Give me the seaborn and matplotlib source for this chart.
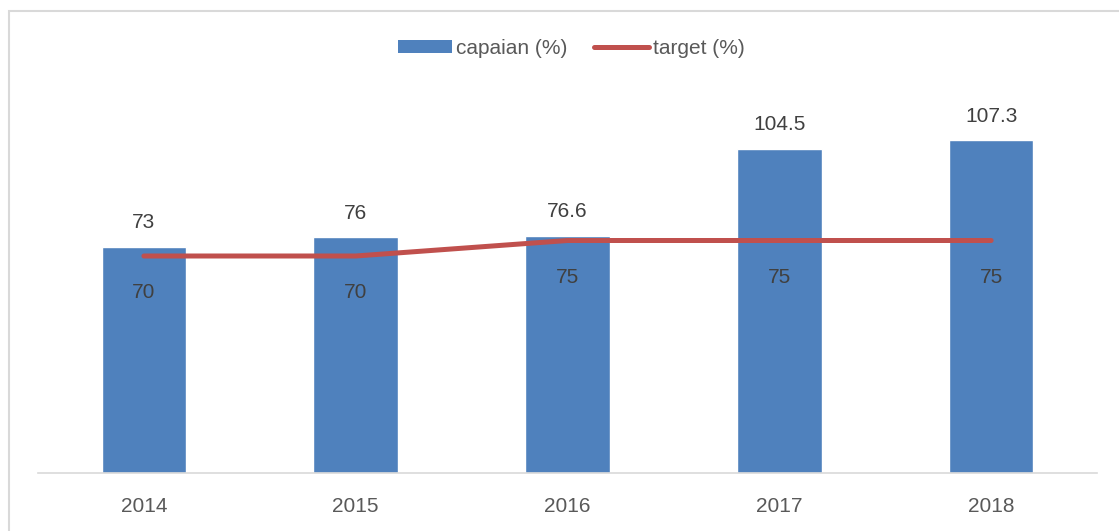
import matplotlib
matplotlib.use("Agg")
import matplotlib.pyplot as plt
import seaborn as sns
import pandas as pd
import numpy as np
from matplotlib.patches import Rectangle, Patch
from matplotlib.lines import Line2D

years = ["2014", "2015", "2016", "2017", "2018"]
capaian = [73, 76, 76.6, 104.5, 107.3]
target = [70, 70, 75, 75, 75]
capaian_labels = ["73", "76", "76.6", "104.5", "107.3"]
target_labels = ["70", "70", "75", "75", "75"]

BAR = "#4F81BD"
LINE = "#C0504D"

sns.set_theme(style="white")
plt.rcParams["font.family"] = ["Liberation Sans", "DejaVu Sans"]

fig = plt.figure(figsize=(11.19, 5.31), dpi=100)
W, H = 1119, 531
ax = fig.add_axes([38 / W, (H - 473) / H, (1097 - 38) / W, 370 / H])

df = pd.DataFrame({"year": years, "capaian": capaian})
sns.barplot(data=df, x="year", y="capaian", color=BAR, saturation=1, width=0.4, ax=ax)
xs = np.arange(len(years))
sns.lineplot(x=xs, y=target, color=LINE, linewidth=3.6, ax=ax, sort=False)

ax.set_ylim(0, 370 / 3.1)
ax.set_xlim(-0.5, len(years) - 0.5)
ax.set_xlabel("")
ax.set_ylabel("")
ax.set_yticks([])
for s in ["left", "right", "top"]:
    ax.spines[s].set_visible(False)
ax.spines["bottom"].set_color("#D9D9D9")
ax.spines["bottom"].set_linewidth(1.2)
ax.tick_params(axis="x", length=0, pad=17, labelsize=15, labelcolor="#595959")

for x, v, lab in zip(xs, capaian, capaian_labels):
    ax.annotate(lab, (x, v), xytext=(0, 17.5), textcoords="offset points",
                ha="center", va="center", fontsize=15, color="#404040")
for x, v, lab in zip(xs, target, target_labels):
    ax.annotate(lab, (x, v), xytext=(0, -26.5), textcoords="offset points",
                ha="center", va="center", fontsize=15, color="#404040")

handles = [Patch(facecolor=BAR, edgecolor="none"),
           Line2D([0], [0], color=LINE, linewidth=3.6, solid_capstyle="round")]
fig.legend(handles, ["capaian (%)", "target (%)"], loc="center",
           bbox_to_anchor=(571 / W, (H - 48) / H), ncol=2, frameon=False,
           fontsize=15, handlelength=2.6, handleheight=0.6, handletextpad=0.2,
           columnspacing=1.3, labelcolor="#595959")

fig.patches.append(Rectangle((8.5 / W, -0.2), 1.2, (H - 10.5) / H + 0.2,
                             transform=fig.transFigure, fill=False,
                             edgecolor="#D9D9D9", linewidth=1.5))

fig.savefig("out.png", dpi=100)
